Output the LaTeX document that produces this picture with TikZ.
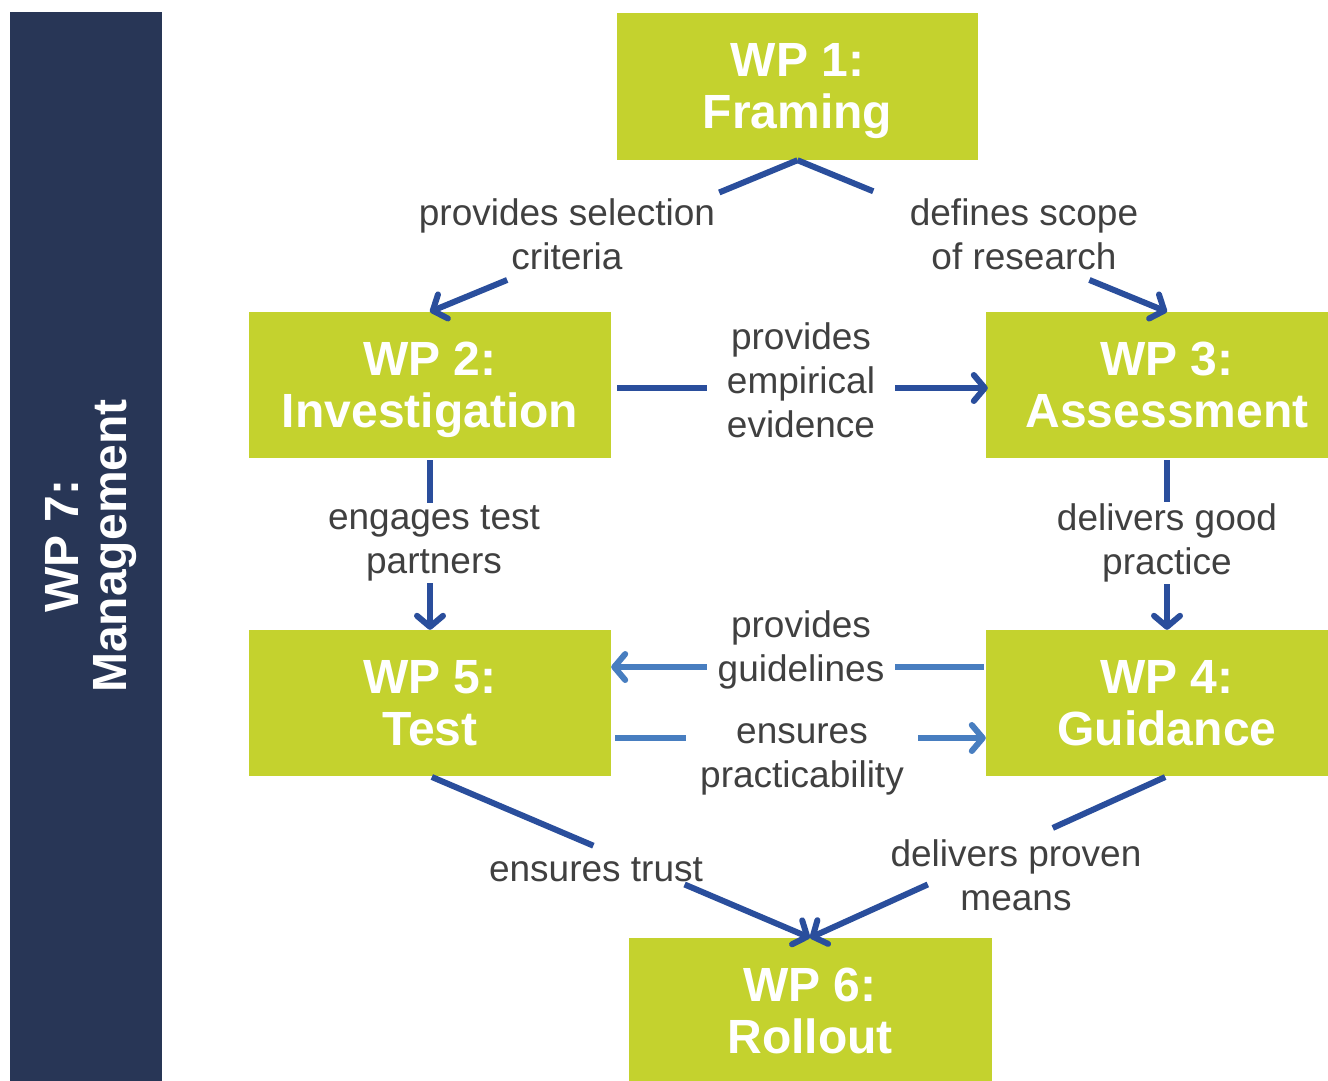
\documentclass[tikz,border=0pt]{standalone}
\usepackage{fontspec}
\setmainfont{Liberation Sans}
\usetikzlibrary{arrows.meta,calc}
\definecolor{wpgreen}{RGB}{196,210,46}
\definecolor{mgmt}{RGB}{40,54,86}
\definecolor{darkarr}{RGB}{42,78,156}
\definecolor{lightarr}{RGB}{72,126,192}
\definecolor{lbltext}{RGB}{64,64,64}
\newcommand\wptop{\rule{0pt}{43pt}}
\newcommand\wpbot{\vphantom{g}}
\begin{document}
\begin{tikzpicture}[x=1pt,y=-1pt,
  wpbox/.style={fill=wpgreen, inner sep=0pt, text=white, align=center,
    font=\fontsize{48}{52}\selectfont\bfseries},
  lbl/.style={fill=white, text=lbltext, align=center, inner sep=2pt,
    font=\fontsize{37}{44}\selectfont},
  line/.style={draw=darkarr, line width=6pt},
  conn/.style={line, -{Straight Barb[length=11pt,width=26pt,round]}},
  lconn/.style={conn, draw=lightarr}
  ]
\useasboundingbox (0,0) rectangle (1328,1081);
% management bar
\node[fill=mgmt, inner sep=0pt, minimum width=152pt, minimum height=1069pt] (mgmt) at (86,546.5) {};
\node[rotate=90, text=white, align=center, font=\fontsize{48}{48}\selectfont\bfseries] (mgmttext) at (91,546) {WP 7:\\Management};
% work packages
\node[wpbox, minimum width=361pt, minimum height=147pt] (wp1) at (797.5,86.5) {\wptop WP 1:\\Framing\wpbot};
\node[wpbox, minimum width=362pt, minimum height=146pt] (wp2) at (430,385) {\wptop WP 2:\\Investigation\wpbot};
\node[wpbox, minimum width=362pt, minimum height=146pt] (wp3) at (1167,385) {\wptop WP 3:\\Assessment\wpbot};
\node[wpbox, minimum width=362pt, minimum height=146pt] (wp5) at (430,703) {\wptop WP 5:\\Test\wpbot};
\node[wpbox, minimum width=362pt, minimum height=146pt] (wp4) at (1167,703) {\wptop WP 4:\\Guidance\wpbot};
\node[wpbox, minimum width=363pt, minimum height=147pt] (wp6) at (810,1011.5) {\wptop WP 6:\\Rollout\wpbot};
% connectors (diagonal ones are interrupted by their labels)
\draw[line] (wp1.south) -- ($(wp1.south)!0.213!(wp2.north)$);
\draw[conn] ($(wp1.south)!0.79!(wp2.north)$) -- (wp2.north);
\draw[line] (wp1.south) -- ($(wp1.south)!0.205!(wp3.north)$);
\draw[conn] ($(wp1.south)!0.79!(wp3.north)$) -- (wp3.north);
\draw[conn, shorten <=6pt] ([yshift=-3pt]wp2.east) -- ([yshift=-3pt,xshift=2pt]wp3.west);
\draw[conn, shorten <=2pt] (wp2.south) -- (wp5.north);
\draw[conn, shorten <=2pt] (wp3.south) -- (wp4.north);
\draw[lconn, shorten <=2pt] ([yshift=36pt]wp4.west) -- ([yshift=36pt]wp5.east);
\draw[lconn, shorten <=4pt] ([yshift=-35pt]wp5.east) -- ([yshift=-35pt]wp4.west);
\draw[line, shorten <=2pt] (wp5.south) -- ($(wp5.south)!0.43!(wp6.north)$);
\draw[conn] ($(wp5.south)!0.67!(wp6.north)$) -- (wp6.north);
\draw[line, shorten <=2pt] (wp4.south) -- ($(wp4.south)!0.32!(wp6.north)$);
\draw[conn] ($(wp4.south)!0.67!(wp6.north)$) -- (wp6.north);
% labels
\node[lbl, fill=none] (l1) at (567,234) {provides selection\\criteria};
\node[lbl, fill=none] (l2) at (1024,234) {defines scope\\of research};
\node[lbl, inner xsep=20pt] (l3) at (801,380) {provides\\empirical\\evidence};
\node[lbl] (l4) at (434,543) {engages test\\partners};
\node[lbl] (l5) at (1167,543) {delivers good\\practice};
\node[lbl, inner xsep=11pt] (l6) at (801,650) {provides\\guidelines};
\node[lbl, inner xsep=14pt] (l7) at (802,759) {ensures\\practicability};
\node[lbl, fill=none] (l8) at (596,870) {ensures trust};
\node[lbl, fill=none] (l9) at (1016,875) {delivers proven\\means};
\end{tikzpicture}
\end{document}
